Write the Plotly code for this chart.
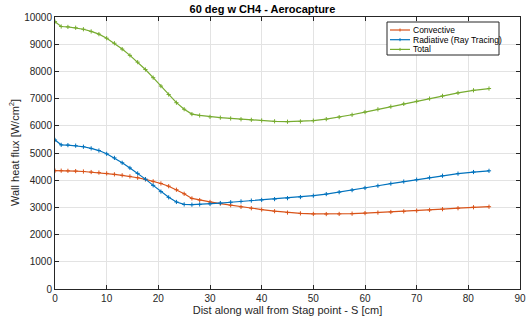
import plotly.graph_objects as go

s = [0, 1.2, 2.5, 4, 5.5, 7, 8.5, 10, 11.5, 13, 14.5, 16, 17.5, 19, 20.5, 22, 23.5, 25, 26.5,
     28, 30, 32, 34, 36, 38, 40, 42.5, 45, 47.5, 50, 52.5, 55, 57.5, 60, 62.5, 65, 67.5,
     70, 72.5, 75, 78, 81, 84]
convective = [4350, 4350, 4345, 4335, 4320, 4300, 4280, 4250, 4215, 4180, 4140, 4090, 4030,
              3960, 3880, 3780, 3650, 3500, 3330, 3270, 3200, 3140, 3080, 3020, 2970, 2920,
              2860, 2810, 2780, 2760, 2755, 2760, 2770, 2790, 2810, 2830, 2855, 2880, 2905,
              2935, 2970, 3005, 3025]
radiative = [5480, 5300, 5290, 5270, 5230, 5170, 5090, 4970, 4820, 4640, 4450, 4250, 4040,
             3810, 3580, 3370, 3200, 3110, 3100, 3110, 3130, 3160, 3190, 3220, 3250, 3275,
             3305, 3340, 3380, 3430, 3490, 3560, 3635, 3715, 3795, 3875, 3950, 4020, 4095,
             4165, 4240, 4300, 4345]
total = [c + r for c, r in zip(convective, radiative)]

names = ["Convective", "Radiative (Ray Tracing)", "Total"]
colors = ["#D95319", "#0072BD", "#77AC30"]
series = [convective, radiative, total]
yticks = list(range(0, 10001, 1000))
xticks = list(range(0, 91, 10))

W, H = 526, 324
L, R, T, B = 55, 6, 17, 35
pw, ph = W - L - R, H - T - B


def px(x):
    return (x - L) / pw


def py(y):
    return (H - B - y) / ph


fig = go.Figure()
for n, c, y in zip(names, colors, series):
    fig.add_trace(go.Scatter(x=s, y=y, name=n, mode="lines+markers",
                             line=dict(color=c, width=1.2),
                             marker=dict(symbol="cross-thin", size=3,
                                         line=dict(color=c, width=1)),
                             showlegend=False))

font = "Liberation Sans, Arial, sans-serif"
axcommon = dict(showline=True, linecolor="#262626", linewidth=1, mirror="allticks",
                ticks="inside", ticklen=4, tickcolor="#262626", automargin=False,
                showgrid=True, gridcolor="#e3e3e3", gridwidth=1, zeroline=False,
                tickfont=dict(family=font, size=10, color="#262626"))

# legend drawn as a box with line samples and labels
shapes = [dict(type="rect", xref="paper", yref="paper",
               x0=px(387), x1=px(499), y0=py(55), y1=py(22),
               line=dict(color="#262626", width=1), fillcolor="white", layer="above")]
annotations = []
for i, (n, c) in enumerate(zip(names, colors)):
    yy = 30 + i * 9.7
    shapes.append(dict(type="line", xref="paper", yref="paper",
                       x0=px(390), x1=px(410), y0=py(yy), y1=py(yy),
                       line=dict(color=c, width=1.2), layer="above"))
    shapes.append(dict(type="line", xref="paper", yref="paper",
                       x0=px(400), x1=px(400), y0=py(yy - 1.5), y1=py(yy + 1.5),
                       line=dict(color=c, width=1), layer="above"))
    annotations.append(dict(xref="paper", yref="paper", x=px(411), y=py(yy),
                            xanchor="left", yanchor="middle", showarrow=False,
                            text=n, font=dict(family=font, size=8.5, color="black")))

# y-axis title
annotations.append(dict(xref="paper", yref="paper", x=px(14), y=0.5,
                        xanchor="center", yanchor="middle", showarrow=False, textangle=-90,
                        text="Wall heat flux [W/cm<sup>2</sup>]",
                        font=dict(family=font, size=11, color="#262626")))

fig.update_layout(
    width=W, height=H,
    margin=dict(l=L, r=R, t=T, b=B),
    paper_bgcolor="white", plot_bgcolor="white",
    title=dict(text="<b>60 deg w CH4 - Aerocapture</b>", x=px(287), xanchor="center",
               y=1 - 9 / H, yanchor="middle",
               font=dict(family=font, size=11, color="black")),
    xaxis=dict(range=[0, 90], tickvals=xticks,
               title=dict(text="Dist along wall from Stag point - S [cm]", standoff=2,
                          font=dict(family=font, size=11, color="#262626")),
               **axcommon),
    yaxis=dict(range=[0, 10000], tickvals=yticks, ticktext=[str(v) for v in yticks],
               **axcommon),
    shapes=shapes, annotations=annotations,
    showlegend=False,
)
fig.write_html("out.html", config={"displayModeBar": False},
               post_script="document.body.style.margin='0';document.body.style.padding='0';")
